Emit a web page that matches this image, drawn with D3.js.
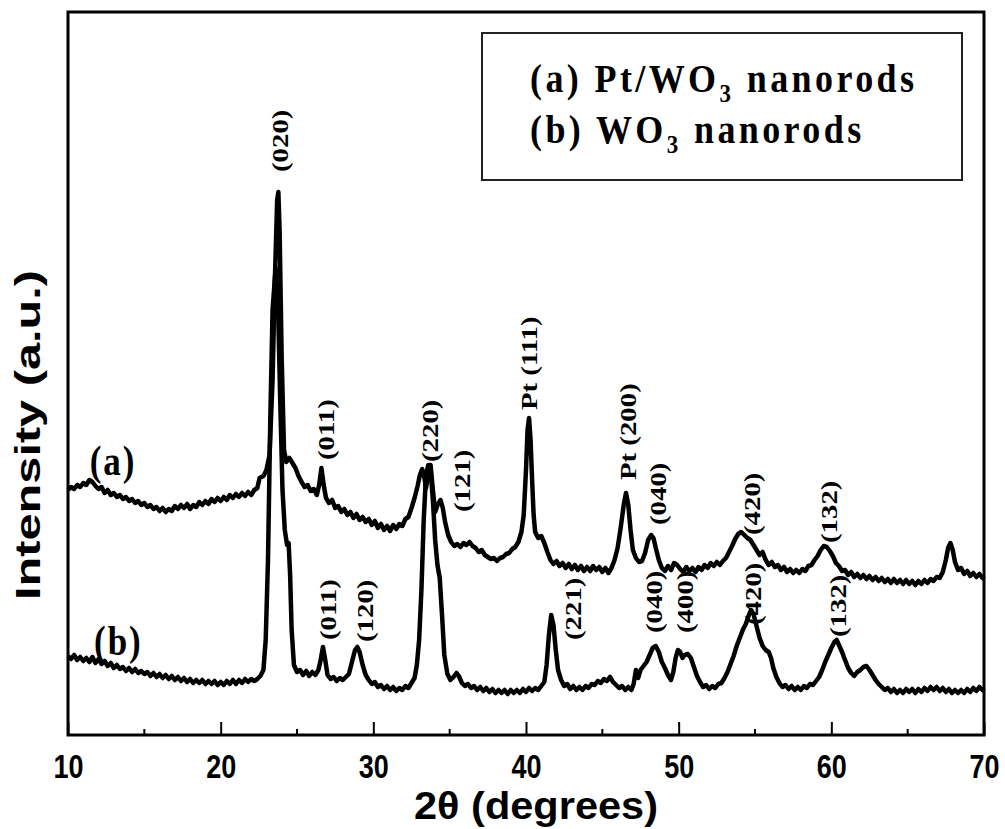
<!DOCTYPE html>
<html>
<head>
<meta charset="utf-8">
<script src="https://cdn.jsdelivr.net/npm/d3@7"></script>
<style>
  body { margin: 0; background: #fff; }
</style>
</head>
<body>
<svg id="chart" width="1005" height="829"></svg>
<script>
// XRD patterns: [2theta (deg), intensity (a.u.)]
const curveA = [
  [10.0,245],[10.2,248],[10.4,246],[10.6,250],[10.8,248],[11.0,252],[11.2,250],[11.4,255],[11.6,253],[11.8,249],
  [12.0,246],[12.2,248],[12.4,242],[12.6,245],[12.8,240],[13.0,242],[13.2,238],[13.4,240],[13.6,236],[13.8,238],
  [14.0,234],[14.2,236],[14.4,232],[14.6,234],[14.8,230],[15.0,232],[15.2,228],[15.4,230],[15.6,226],[15.8,228],
  [16.0,224],[16.2,227],[16.4,223],[16.6,226],[16.8,224],[17.0,229],[17.2,226],[17.4,230],[17.6,227],[17.8,231],
  [18.0,226],[18.2,230],[18.4,228],[18.6,233],[18.8,230],[19.0,234],[19.2,231],[19.4,236],[19.6,233],[19.8,237],
  [20.0,234],[20.2,238],[20.4,235],[20.6,240],[20.8,237],[21.0,241],[21.2,238],[21.4,242],[21.6,239],[21.8,243],
  [22.0,240],[22.2,245],[22.4,247],[22.55,257],[22.8,259],[23.0,265],[23.2,280],[23.4,355],[23.55,455],[23.7,535],
  [23.78,543],[23.86,505],[24.0,375],[24.15,285],[24.3,273],[24.5,277],[24.7,272],[24.9,267],[25.1,259],[25.3,253],
  [25.5,248],[25.7,250],[25.9,244],[26.1,246],[26.3,240],[26.45,250],[26.6,267],[26.75,250],[26.9,237],[27.1,232],
  [27.3,235],[27.5,227],[27.7,229],[27.9,223],[28.1,226],[28.3,220],[28.5,223],[28.7,217],[28.9,221],[29.1,215],
  [29.3,218],[29.5,213],[29.7,216],[29.9,210],[30.1,214],[30.3,207],[30.5,211],[30.7,205],[30.9,209],[31.1,204],
  [31.3,210],[31.5,206],[31.7,211],[31.9,209],[32.1,216],[32.3,218],[32.5,227],[32.7,237],[32.9,249],[33.05,260],
  [33.2,266],[33.35,257],[33.45,247],[33.6,261],[33.75,270],[33.9,245],[34.05,223],[34.2,230],[34.4,235],[34.55,227],
  [34.7,213],[34.9,200],[35.1,193],[35.3,189],[35.5,191],[35.7,188],[35.9,192],[36.1,190],[36.3,193],[36.5,189],
  [36.7,187],[36.9,183],[37.1,185],[37.3,180],[37.5,178],[37.7,176],[37.9,177],[38.1,174],[38.3,177],[38.5,178],
  [38.7,181],[38.9,182],[39.1,186],[39.3,188],[39.5,193],[39.7,203],[39.85,220],[40.0,265],[40.1,305],[40.2,317],
  [40.3,295],[40.4,255],[40.5,220],[40.6,203],[40.8,197],[41.0,199],[41.2,192],[41.4,183],[41.6,175],[41.8,171],
  [42.0,174],[42.2,169],[42.4,172],[42.6,167],[42.8,171],[43.0,166],[43.2,170],[43.4,165],[43.6,169],[43.8,164],
  [44.0,168],[44.2,164],[44.4,169],[44.6,165],[44.8,168],[45.0,163],[45.2,167],[45.4,162],[45.6,167],[45.8,175],
  [46.0,187],[46.2,207],[46.4,230],[46.55,242],[46.7,230],[46.85,205],[47.0,185],[47.2,177],[47.4,173],[47.6,174],
  [47.8,182],[48.0,195],[48.2,200],[48.35,197],[48.5,187],[48.7,175],[48.9,167],[49.1,164],[49.3,169],[49.5,165],
  [49.7,172],[49.9,170],[50.1,166],[50.3,163],[50.5,168],[50.7,164],[50.9,167],[51.1,163],[51.3,168],[51.5,165],
  [51.7,170],[51.9,167],[52.1,172],[52.3,169],[52.5,173],[52.7,170],[52.9,174],[53.1,177],[53.3,183],[53.5,189],
  [53.7,196],[53.9,201],[54.1,203],[54.3,200],[54.5,197],[54.7,195],[54.9,190],[55.1,185],[55.3,180],[55.5,183],
  [55.7,175],[55.9,170],[56.1,173],[56.3,168],[56.5,170],[56.7,165],[56.9,168],[57.1,163],[57.3,166],[57.5,162],
  [57.7,165],[57.9,162],[58.1,166],[58.3,164],[58.5,169],[58.7,170],[58.9,175],[59.1,179],[59.3,185],[59.5,189],
  [59.7,188],[59.9,184],[60.1,179],[60.3,172],[60.5,169],[60.7,164],[60.9,165],[61.1,160],[61.3,163],[61.5,158],
  [61.7,161],[61.9,157],[62.1,160],[62.3,156],[62.5,159],[62.7,155],[62.9,158],[63.1,154],[63.3,157],[63.5,153],
  [63.7,156],[63.9,152],[64.1,156],[64.3,152],[64.5,155],[64.7,151],[64.9,155],[65.1,151],[65.3,154],[65.5,150],
  [65.7,154],[65.9,151],[66.1,155],[66.3,152],[66.5,156],[66.7,154],[66.9,158],[67.1,157],[67.3,163],[67.5,175],
  [67.65,187],[67.8,192],[67.95,185],[68.1,173],[68.3,165],[68.5,167],[68.7,161],[68.9,164],[69.1,159],[69.3,162],
  [69.5,158],[69.7,161],[69.9,157],[70.0,159]
];

const curveB = [
  [10.0,79],[10.2,76],[10.4,80],[10.6,75],[10.8,78],[11.0,74],[11.2,77],[11.4,73],[11.6,78],[11.8,72],
  [12.0,76],[12.2,71],[12.4,74],[12.6,69],[12.8,72],[13.0,67],[13.2,70],[13.4,66],[13.6,68],[13.8,64],
  [14.0,67],[14.2,63],[14.4,66],[14.6,62],[14.8,64],[15.0,61],[15.2,63],[15.4,59],[15.6,62],[15.8,58],
  [16.0,61],[16.2,57],[16.4,60],[16.6,56],[16.8,59],[17.0,55],[17.2,58],[17.4,54],[17.6,57],[17.8,53],
  [18.0,56],[18.2,52],[18.4,55],[18.6,52],[18.8,55],[19.0,51],[19.2,54],[19.4,51],[19.6,54],[19.8,50],
  [20.0,53],[20.2,50],[20.4,54],[20.6,51],[20.8,55],[21.0,51],[21.2,55],[21.4,52],[21.6,56],[21.8,53],
  [22.0,56],[22.2,54],[22.4,56],[22.6,59],[22.8,65],[22.95,95],[23.1,175],[23.25,315],[23.4,425],[23.6,467],
  [23.75,435],[23.9,335],[24.05,245],[24.2,205],[24.35,190],[24.45,192],[24.55,160],[24.65,105],[24.8,70],[25.0,63],
  [25.2,65],[25.4,60],[25.6,64],[25.8,59],[26.0,63],[26.2,60],[26.4,65],[26.55,75],[26.7,88],[26.85,75],
  [27.0,60],[27.2,56],[27.4,58],[27.6,54],[27.8,57],[28.0,55],[28.2,58],[28.4,61],[28.6,73],[28.8,85],
  [28.95,88],[29.1,83],[29.3,70],[29.5,60],[29.7,55],[29.9,51],[30.1,53],[30.3,48],[30.5,50],[30.7,46],
  [30.9,49],[31.1,45],[31.3,48],[31.5,44],[31.7,47],[31.9,45],[32.1,49],[32.3,47],[32.5,52],[32.7,57],
  [32.85,70],[33.0,95],[33.15,145],[33.3,215],[33.45,260],[33.6,270],[33.75,265],[33.9,235],[34.05,195],[34.2,170],
  [34.35,157],[34.5,120],[34.65,80],[34.85,61],[35.05,55],[35.25,58],[35.45,62],[35.6,59],[35.8,52],[36.0,49],
  [36.2,51],[36.4,47],[36.6,49],[36.8,45],[37.0,48],[37.2,44],[37.4,47],[37.6,43],[37.8,46],[38.0,42],
  [38.2,45],[38.4,42],[38.6,45],[38.8,41],[39.0,45],[39.2,42],[39.4,45],[39.6,42],[39.8,46],[40.0,43],
  [40.2,47],[40.4,44],[40.6,47],[40.8,45],[41.0,49],[41.2,53],[41.35,70],[41.5,100],[41.65,120],[41.8,110],
  [41.95,85],[42.1,65],[42.3,55],[42.5,49],[42.7,51],[42.9,46],[43.1,49],[43.3,45],[43.5,48],[43.7,45],
  [43.9,49],[44.1,47],[44.3,51],[44.5,50],[44.7,54],[44.9,52],[45.1,56],[45.3,54],[45.5,58],[45.7,53],
  [45.9,50],[46.1,47],[46.3,49],[46.5,45],[46.7,48],[46.9,45],[47.05,51],[47.2,65],[47.35,57],[47.5,65],
  [47.7,69],[47.9,73],[48.1,80],[48.3,87],[48.5,89],[48.7,83],[48.9,73],[49.1,67],[49.3,60],[49.5,55],
  [49.65,63],[49.8,77],[49.95,85],[50.1,83],[50.25,77],[50.4,80],[50.6,81],[50.8,77],[51.0,68],[51.2,59],
  [51.4,53],[51.6,48],[51.8,50],[52.0,46],[52.2,49],[52.4,47],[52.6,51],[52.8,52],[53.0,57],[53.2,63],
  [53.4,71],[53.6,79],[53.8,89],[54.0,97],[54.2,105],[54.4,111],[54.6,120],[54.75,125],[54.9,121],[55.1,109],
  [55.3,97],[55.5,89],[55.7,85],[55.9,83],[56.05,77],[56.2,67],[56.4,58],[56.6,52],[56.8,48],[57.0,50],
  [57.2,46],[57.4,49],[57.6,45],[57.8,48],[58.0,45],[58.2,49],[58.4,47],[58.6,51],[58.8,50],[59.0,54],
  [59.2,58],[59.4,65],[59.6,73],[59.8,80],[60.0,87],[60.2,93],[60.35,95],[60.5,90],[60.7,83],[60.9,75],
  [61.1,67],[61.3,62],[61.5,59],[61.7,63],[61.9,65],[62.1,68],[62.3,69],[62.5,65],[62.7,60],[62.9,55],
  [63.1,51],[63.3,48],[63.5,45],[63.7,47],[63.9,43],[64.1,46],[64.3,42],[64.5,45],[64.7,42],[64.9,46],
  [65.1,43],[65.3,46],[65.5,42],[65.7,46],[65.9,43],[66.1,47],[66.3,44],[66.5,48],[66.7,45],[66.9,48],
  [67.1,44],[67.3,47],[67.5,43],[67.7,46],[67.9,42],[68.1,45],[68.3,42],[68.5,45],[68.7,42],[68.9,46],
  [69.1,43],[69.3,47],[69.5,44],[69.7,48],[69.9,45],[70.0,47]
];

// peak labels: text, 2theta, intensity at the foot of the label
const peakLabels = [
  ["(020)", 23.88, 563], ["(011)", 26.9, 275], ["(220)", 33.7, 273], ["(121)", 35.8, 223],
  ["Pt (111)", 40.2, 325], ["Pt (200)", 46.67, 255], ["(040)", 48.64, 210], ["(420)", 54.8, 200],
  ["(132)", 59.84, 192],
  ["(011)", 27.03, 95], ["(120)", 29.45, 93], ["(221)", 43.07, 95], ["(040)", 48.38, 102],
  ["(400)", 50.4, 102], ["(420)", 54.86, 110], ["(132)", 60.43, 98]
];

const curveNames = [["(a)", 12.95, 260], ["(b)", 13.3, 80]];
const legendLines = [["(a) Pt/WO", "3", " nanorods"], ["(b) WO", "3", " nanorods"]];
const majorTicks = [10, 20, 30, 40, 50, 60, 70];
const minorTicks = [15, 25, 35, 45, 55, 65];

const svg = d3.select("#chart");
const plotLeft = 68, plotRight = 984, plotTop = 12, plotBottom = 735;
const stretch = 1.2; // text in the figure is drawn a bit taller than wide

const x = d3.scaleLinear().domain([10, 70]).range([plotLeft, plotRight]);
const y = d3.scaleLinear().domain([0, 723]).range([plotBottom, plotTop]);

const line = d3.line()
    .x(d => x(d[0]))
    .y(d => y(d[1]));

// curves
[curveA, curveB].forEach(c => {
    svg.append("path")
        .datum(c)
        .attr("d", line)
        .attr("fill", "none")
        .attr("stroke", "#000")
        .attr("stroke-width", 4.5)
        .attr("stroke-linejoin", "round");
});

// bottom axis, ticks pointing inward
const axisG = svg.append("g").attr("transform", `translate(0,${plotBottom})`);
axisG.call(d3.axisBottom(x).tickValues(majorTicks).tickSize(-13).tickFormat(d3.format("d")));
axisG.select(".domain").remove();
axisG.selectAll(".tick line").attr("stroke-width", 2);
axisG.selectAll(".tick text")
    .attr("y", null).attr("dy", null)
    .attr("transform", `translate(0,43) scale(1,${stretch})`)
    .attr("font-family", "Liberation Sans, Arial, sans-serif")
    .attr("font-weight", "bold")
    .attr("font-size", 27)
    .attr("fill", "#000");

svg.append("g").selectAll("line")
    .data(minorTicks)
    .enter()
    .append("line")
    .attr("x1", d => x(d)).attr("x2", d => x(d))
    .attr("y1", plotBottom).attr("y2", plotBottom - 6)
    .attr("stroke", "#000")
    .attr("stroke-width", 2);

// frame
svg.append("rect")
    .attr("x", plotLeft).attr("y", plotTop)
    .attr("width", plotRight - plotLeft).attr("height", plotBottom - plotTop)
    .attr("fill", "none")
    .attr("stroke", "#000")
    .attr("stroke-width", 3);

// axis titles
svg.append("text")
    .attr("transform", `translate(536,819) scale(1,${stretch})`)
    .attr("text-anchor", "middle")
    .attr("font-family", "Liberation Sans, Arial, sans-serif")
    .attr("font-weight", "bold")
    .attr("font-size", 33)
    .attr("textLength", 244)
    .attr("lengthAdjust", "spacingAndGlyphs")
    .text("2θ (degrees)");

svg.append("text")
    .attr("transform", `translate(40,435) scale(1,${stretch}) rotate(-90)`)
    .attr("text-anchor", "middle")
    .attr("font-family", "Liberation Sans, Arial, sans-serif")
    .attr("font-weight", "bold")
    .attr("font-size", 35)
    .attr("textLength", 275)
    .attr("lengthAdjust", "spacingAndGlyphs")
    .text("Intensity (a.u.)");

// peak labels (rotated)
svg.append("g").selectAll("text")
    .data(peakLabels)
    .enter()
    .append("text")
    .attr("transform", d => `translate(${x(d[1])},${y(d[2])}) scale(1,${stretch}) rotate(-90)`)
    .attr("dy", "0.35em")
    .attr("font-family", "Liberation Serif, Times New Roman, serif")
    .attr("font-weight", "bold")
    .attr("font-size", 24)
    .text(d => d[0]);

// curve names
svg.append("g").selectAll("text")
    .data(curveNames)
    .enter()
    .append("text")
    .attr("transform", d => `translate(${x(d[1])},${y(d[2])}) scale(1,${stretch})`)
    .attr("text-anchor", "middle")
    .attr("font-family", "Liberation Serif, Times New Roman, serif")
    .attr("font-weight", "bold")
    .attr("font-size", 35)
    .attr("letter-spacing", 2)
    .text(d => d[0]);

// legend
svg.append("rect")
    .attr("x", 482).attr("y", 33)
    .attr("width", 480).attr("height", 147)
    .attr("fill", "#fff")
    .attr("stroke", "#222")
    .attr("stroke-width", 2);

legendLines.forEach((parts, i) => {
    const t = svg.append("text")
        .attr("transform", `translate(530,${92 + i * 51}) scale(1,1.1)`)
        .attr("font-family", "Liberation Serif, Times New Roman, serif")
        .attr("font-weight", "bold")
        .attr("font-size", 36)
        .attr("letter-spacing", 3.4);
    t.append("tspan").text(parts[0]);
    t.append("tspan").attr("font-size", 23).attr("dy", 9).text(parts[1]);
    t.append("tspan").attr("dy", -9).text(parts[2]);
});
</script>
</body>
</html>
